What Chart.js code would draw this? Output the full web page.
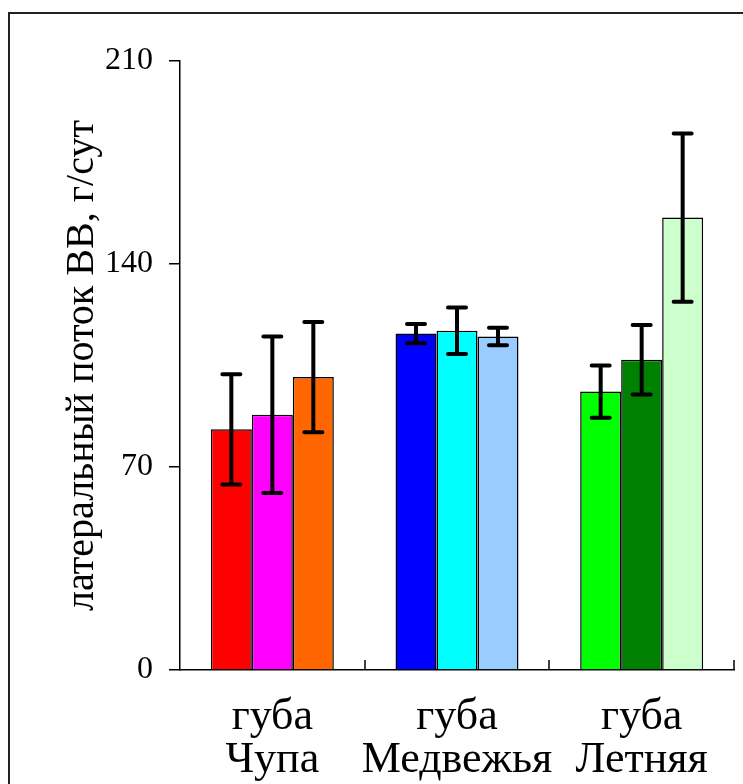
<!DOCTYPE html>
<html lang="ru">
<head>
<meta charset="utf-8">
<title>латеральный поток ВВ</title>
<script src="https://cdn.jsdelivr.net/npm/chart.js@4.4.1/dist/chart.umd.min.js"></script>
<style>
    html, body { margin: 0; padding: 0; background: #fff; overflow: hidden; }
    #wrap { position: relative; width: 743px; height: 784px; }
    #frame {
        position: absolute; left: 8px; top: 12px; width: 760px; height: 800px;
        border-top: 2px solid #222; border-left: 2px solid #222;
    }
    canvas { position: absolute; left: 0; top: 0; }
</style>
</head>
<body>
<div id="wrap">
    <div id="frame"></div>
    <canvas id="flux-chart" width="743" height="784"></canvas>
</div>
<script>
// Bays (categories), two-line labels
const BAYS = [['губа', 'Чупа'], ['губа', 'Медвежья'], ['губа', 'Летняя']];

// Three bars per bay: values and error half-widths (g/day)
const BAR1 = [83, 116, 96];
const BAR1_ERR = [19, 3.3, 9];
const BAR2 = [88, 117, 107];
const BAR2_ERR = [27, 8, 12];
const BAR3 = [101, 115, 156];
const BAR3_ERR = [19, 3, 29];

// Colours per bar, per bay
const COLORS1 = ['#ff0000', '#0000ff', '#00ff00'];
const COLORS2 = ['#ff00ff', '#00ffff', '#008000'];
const COLORS3 = ['#ff6600', '#99ccff', '#ccffcc'];

const Y_TICKS = [0, 70, 140, 210];

const SERIF = "'Liberation Serif', 'Times New Roman', serif";
const ERRORS = [BAR1_ERR, BAR2_ERR, BAR3_ERR];

// Draw error bars on top of each bar
const errorBars = {
    id: 'errorBars',
    afterDatasetsDraw(chart) {
        const ctx = chart.ctx;
        const y = chart.scales.y;
        ctx.save();
        ctx.strokeStyle = '#000';
        ctx.lineWidth = 4;
        ctx.lineCap = 'round';
        chart.data.datasets.forEach((ds, di) => {
            const meta = chart.getDatasetMeta(di);
            meta.data.forEach((bar, i) => {
                const v = ds.data[i];
                const e = ERRORS[di][i];
                const top = y.getPixelForValue(v + e);
                const bot = y.getPixelForValue(v - e);
                const cap = 9;
                ctx.beginPath();
                ctx.moveTo(bar.x, top);
                ctx.lineTo(bar.x, bot);
                ctx.moveTo(bar.x - cap, top);
                ctx.lineTo(bar.x + cap, top);
                ctx.moveTo(bar.x - cap, bot);
                ctx.lineTo(bar.x + cap, bot);
                ctx.stroke();
            });
        });
        ctx.restore();
    }
};

// Short inward tick marks at the category boundaries of the x axis
const innerTicks = {
    id: 'innerTicks',
    afterDraw(chart) {
        const x = chart.scales.x;
        const ctx = chart.ctx;
        const w = (x.right - x.left) / BAYS.length;
        ctx.save();
        ctx.strokeStyle = '#000';
        ctx.lineWidth = 1.5;
        for (let i = 1; i <= BAYS.length; i++) {
            const px = Math.round(x.getPixelForValue(i - 1) + w / 2);
            ctx.beginPath();
            ctx.moveTo(px, x.top);
            ctx.lineTo(px, x.top - 10);
            ctx.stroke();
        }
        ctx.restore();
    }
};

function makeDataset(data, colors) {
    return {
        data: data,
        backgroundColor: colors,
        borderColor: '#000',
        borderWidth: 1.5,
        barPercentage: 1.0,
        categoryPercentage: 0.666
    };
}

const ctx = document.getElementById('flux-chart').getContext('2d');
new Chart(ctx, {
    type: 'bar',
    data: {
        labels: BAYS,
        datasets: [
            makeDataset(BAR1, COLORS1),
            makeDataset(BAR2, COLORS2),
            makeDataset(BAR3, COLORS3)
        ]
    },
    options: {
        responsive: false,
        animation: false,
        layout: { padding: { left: 58, top: 61, right: 9, bottom: 0 } },
        plugins: {
            legend: { display: false },
            tooltip: { enabled: false }
        },
        scales: {
            x: {
                afterFit: (scale) => { scale.height = 114; },
                grid: { display: false },
                border: { display: true, color: '#000', width: 1.5 },
                ticks: {
                    color: '#000',
                    padding: 18,
                    autoSkip: false,
                    maxRotation: 0,
                    font: { family: SERIF, size: 44, lineHeight: 0.97 }
                }
            },
            y: {
                min: 0,
                max: 210,
                afterFit: (scale) => { scale.width = 122; },
                afterBuildTicks: (scale) => { scale.ticks = Y_TICKS.map(v => ({ value: v })); },
                grid: { drawOnChartArea: false, drawTicks: true, tickLength: 11, color: '#000', lineWidth: 1.5 },
                border: { display: true, color: '#000', width: 1.5 },
                ticks: {
                    color: '#000',
                    padding: 16,
                    font: { family: SERIF, size: 32 }
                },
                title: {
                    display: true,
                    text: 'латеральный поток ВВ, г/сут',
                    color: '#000',
                    padding: 0,
                    font: { family: SERIF, size: 40, lineHeight: 1.2 }
                }
            }
        }
    },
    plugins: [errorBars, innerTicks]
});
</script>
</body>
</html>
